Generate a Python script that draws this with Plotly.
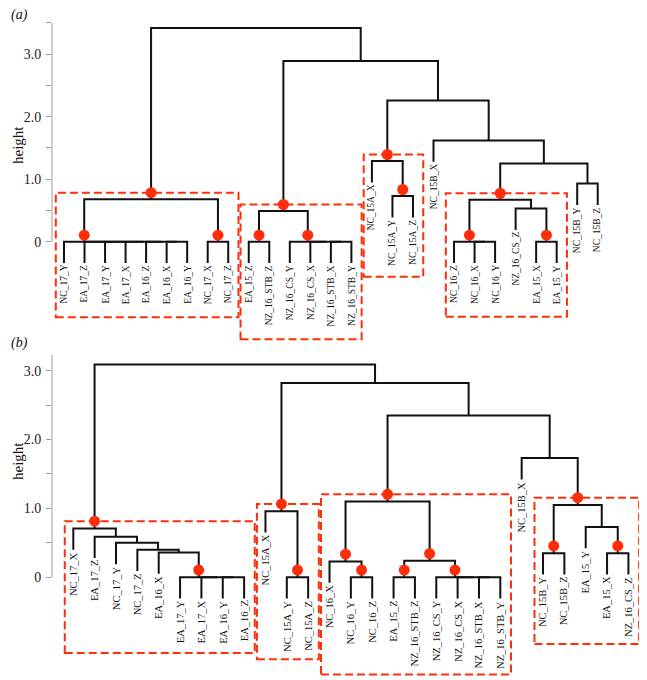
import plotly.graph_objects as go

# ======================================================
# DATA
# ======================================================
# leaf labels, left to right
labels_a = ["NC_17_Y", "EA_17_Z", "EA_17_Y", "EA_17_X", "EA_16_Z", "EA_16_X", "EA_16_Y",
            "NC_17_X", "NC_17_Z", "EA_15_Z", "NZ_16_STB_Z", "NZ_16_CS_Y", "NZ_16_CS_X",
            "NZ_16_STB_X", "NZ_16_STB_Y", "NC_15A_X", "NC_15A_Y", "NC_15A_Z", "NC_15B_X",
            "NC_16_Z", "NC_16_X", "NC_16_Y", "NZ_16_CS_Z", "EA_15_X", "EA_15_Y",
            "NC_15B_Y", "NC_15B_Z"]

# merge table (hclust style): negative = leaf position, positive = earlier row
merge_a = [[-6, -7], [-5, 1], [-4, 2], [-3, 3], [-2, 4], [-1, 5], [-8, -9], [6, 7],
           [-10, -11], [-14, -15], [-13, 10], [-12, 11], [9, 12], [-17, -18], [-16, 14],
           [-21, -22], [-20, 16], [-24, -25], [-23, 18], [17, 19], [-26, -27], [20, 21],
           [-19, 22], [15, 23], [13, 24], [8, 25]]
height_a = [0, 0, 0, 0, 0, 0, 0, 0.68,
            0, 0, 0, 0, 0.49, 0.73, 1.29,
            0, 0, 0, 0.53, 0.67, 0.93, 1.25,
            1.62, 2.26, 2.89, 3.42]
dots_a = [6, 7, 8, 9, 12, 13, 14, 15, 17, 18, 20]
boxes_a = [8, 13, 15, 20]
box_bottom_a = [-1.21, -1.56, -0.56, -1.20]

labels_b = ["NC_17_X", "EA_17_Z", "NC_17_Y", "NC_17_Z", "EA_16_X", "EA_17_Y", "EA_17_X",
            "EA_16_Y", "EA_16_Z", "NC_15A_X", "NC_15A_Y", "NC_15A_Z", "NC_16_X", "NC_16_Y",
            "NC_16_Z", "EA_15_Z", "NZ_16_STB_Z", "NZ_16_CS_Y", "NZ_16_CS_X", "NZ_16_STB_X",
            "NZ_16_STB_Y", "NC_15B_X", "NC_15B_Y", "NC_15B_Z", "EA_15_Y", "EA_15_X",
            "NZ_16_CS_Z"]
merge_b = [[-8, -9], [-7, 1], [-6, 2], [-5, 3], [-4, 4], [-3, 5], [-2, 6], [-1, 7],
           [-11, -12], [-10, 9], [-14, -15], [-13, 11], [-16, -17], [-20, -21], [-19, 14],
           [-18, 15], [13, 16], [12, 17], [-23, -24], [-26, -27], [-25, 20], [19, 21],
           [-22, 22], [18, 23], [10, 24], [8, 25]]
height_b = [0, 0, 0, 0.36, 0.40, 0.50, 0.59, 0.71,
            0, 0.96, 0, 0.23, 0, 0, 0,
            0, 0.24, 1.10, 0.35, 0.35, 0.73, 1.05,
            1.73, 2.35, 2.82, 3.09]
dots_b = [3, 8, 9, 10, 11, 12, 13, 16, 17, 18, 19, 20, 22]
boxes_b = [8, 10, 18, 22]
box_bottom_b = [-1.10, -1.19, -1.41, -0.97]

ticks_a = [0, 0.5, 1.0, 1.5, 2.0, 2.5, 3.0, 3.5]
ticks_b = [0, 0.5, 1.0, 1.5, 2.0, 2.5, 3.0]
tick_text = ["0", "", "1.0", "", "2.0", "", "3.0", ""]

FONT = "Liberation Serif, Times New Roman, Times, serif"
RED = "#ff2d0a"
DOT_LIFT = 0.105


# ======================================================
# DENDROGRAM GEOMETRY (R plot.hclust rules)
# ======================================================
def dendro(merge, height):
    hang = 0.1 * (max(height) - min(height))
    node_x, node_leaves = [], []
    xs, ys, tips = [], [], {}
    for k, (l, r) in enumerate(merge):
        h = height[k]
        parts = []
        for c in (l, r):
            if c < 0:
                tips[-c] = h - hang
                parts.append((-c, h - hang, [-c]))
            else:
                parts.append((node_x[c - 1], height[c - 1], node_leaves[c - 1]))
        (xl, bl, ll), (xr, br, lr) = parts
        xs += [xl, xl, xr, xr, None]
        ys += [bl, h, h, br, None]
        node_x.append((xl + xr) / 2)
        node_leaves.append(ll + lr)
    return xs, ys, tips, node_x, node_leaves


fig = go.Figure()
shapes, annotations = [], []

panels = [
    (labels_a, merge_a, height_a, dots_a, boxes_a, box_bottom_a, "x", "y", 9.5),
    (labels_b, merge_b, height_b, dots_b, boxes_b, box_bottom_b, "x2", "y2", 10.5),
]

for labels, merge, height, dots, boxes, bottoms, xa, ya, fsize in panels:
    xs, ys, tips, node_x, node_leaves = dendro(merge, height)

    fig.add_trace(go.Scatter(x=xs, y=ys, mode="lines", xaxis=xa, yaxis=ya,
                             line=dict(color="#111111", width=2), hoverinfo="skip"))

    fig.add_trace(go.Scatter(
        x=[node_x[d - 1] for d in dots],
        y=[height[d - 1] + DOT_LIFT for d in dots],
        mode="markers", xaxis=xa, yaxis=ya,
        marker=dict(color=RED, size=11, line=dict(width=0)), hoverinfo="skip"))

    for node, bottom in zip(boxes, bottoms):
        lv = node_leaves[node - 1]
        shapes.append(dict(type="rect", xref=xa, yref=ya, layer="below",
                           x0=min(lv) - 0.4, x1=max(lv) + 0.5,
                           y0=bottom, y1=height[node - 1] + DOT_LIFT,
                           line=dict(color=RED, width=2, dash="8px,4px")))

    for i, lab in enumerate(labels, start=1):
        annotations.append(dict(x=i, y=tips[i], xref=xa, yref=ya, text=lab,
                                showarrow=False, textangle=-90,
                                xanchor="center", yanchor="top",
                                font=dict(family=FONT, size=fsize, color="#111111")))

# axis lines only over the positive heights
shapes.append(dict(type="line", xref="x domain", yref="y", x0=0, x1=0, y0=0, y1=3.5,
                   line=dict(color="#999999", width=1)))
shapes.append(dict(type="line", xref="x2 domain", yref="y2", x0=0, x1=0, y0=0, y1=3.23,
                   line=dict(color="#999999", width=1)))

# the page body adds an 8px offset, so the figure is 8px smaller
FW, FH = 639, 672
L = 44
W = FW - L


def paper(px, py):
    # page pixel -> paper coords
    return (px - 8 - L) / W, 1 - (py - 8) / FH


for txt, px, py in [("(a)", 9, 15), ("(b)", 9, 343)]:
    x, y = paper(px, py)
    annotations.append(dict(text=f"<i>{txt}</i>", xref="paper", yref="paper",
                            x=x, y=y, xanchor="left", yanchor="middle",
                            showarrow=False, font=dict(family=FONT, size=14, color="#111111")))
for py in [145, 461]:
    x, y = paper(18, py)
    annotations.append(dict(text="height", xref="paper", yref="paper", textangle=-90,
                            x=x, y=y, xanchor="center", yanchor="middle", showarrow=False,
                            font=dict(family=FONT, size=15, color="#111111")))

yax = dict(showgrid=False, zeroline=False, showline=False, ticks="outside", ticklen=5,
           tickcolor="#999999", tickmode="array", ticklabelstandoff=2,
           tickfont=dict(family=FONT, size=14, color="#222222"))

fig.update_layout(
    width=FW, height=FH,
    margin=dict(l=L, r=0, t=0, b=0),
    paper_bgcolor="white", plot_bgcolor="white",
    showlegend=False,
    xaxis=dict(domain=[0, 1], range=[0.4155, 29.40], visible=False, anchor="y"),
    yaxis=dict(domain=[1 - 337 / FH, 1], range=[-1.653, 3.739], anchor="x",
               tickvals=ticks_a, ticktext=tick_text[:len(ticks_a)], **yax),
    xaxis2=dict(domain=[0, 1], range=[0.0023, 27.87], visible=False, anchor="y2"),
    yaxis2=dict(domain=[0, 1 - 339 / FH], range=[-1.491, 3.343], anchor="x2",
                tickvals=ticks_b, ticktext=tick_text[:len(ticks_b)], **yax),
    shapes=shapes,
    annotations=annotations,
)

fig.write_html("out.html")
